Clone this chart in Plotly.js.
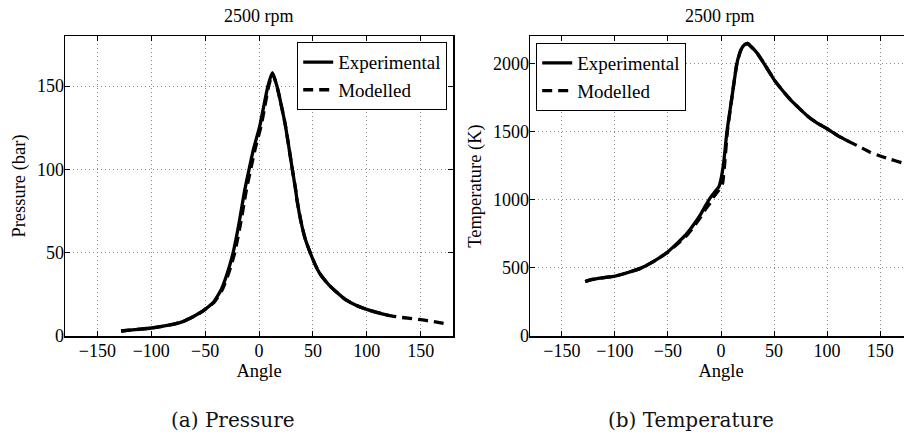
<!DOCTYPE html>
<html>
<head>
<meta charset="utf-8">
<script src="https://cdn.plot.ly/plotly-3.0.1.min.js"></script>
<style>
html,body{margin:0;padding:0;background:#fff;overflow:hidden;width:904px;height:435px;}
#chart{width:920px;height:435px;}
</style>
</head>
<body>
<div id="chart"></div>
<script>
// ---- Pressure data (bar) ----
const pExpAngle = [-128,-120,-110,-100,-90,-80,-70,-64,-60,-55,-50,-45,-42.5,-35,-29.3,-24,-18.5,-14.8,-13.2,-9.2,-4.9,0.6,3.7,8.3,12.4,16.6,21.6,24.7,30.9,34,35.2,39.2,43,47.5,52,56,60,65,70,80,90,100,110,120];
const pExpValue = [3,3.5,4.1,4.8,5.8,7,8.8,10.6,12,13.8,16,18.6,20,27.9,37.9,50,67.8,81.8,87.7,100,112.7,125.6,135.6,150,158,150,135.6,125.6,100,87.7,81.8,67.8,58,50,43,37.9,34.3,30.5,27.5,22,18.5,16,14,12.4];
const pModAngle = [-128,-120,-110,-100,-90,-80,-70,-64,-60,-55,-50,-45,-42,-34,-28,-22.5,-17,-13.3,-11.7,-7.7,-3.4,1.8,4.8,9,12.6,16.6,21.6,24.7,30.9,34,35.2,39.2,43,47.5,52,56,60,65,70,80,90,100,110,120,130,140,150,160,170,175];
const pModValue = [3,3.5,4.1,4.8,5.8,7,8.8,10.6,12,13.8,16,18.6,20,27.9,37.9,50,67.8,81.8,87.7,100,112.7,125.6,135.6,150,157.5,150,135.6,125.6,100,87.7,81.8,67.8,58,50,43,37.9,34.3,30.5,27.5,22,18.5,16,14,12.4,11.3,10.6,9.8,8.8,7.7,7.2];

// ---- Temperature data (K) ----
const tExpAngle = [-128,-123,-110,-100,-90,-76,-65,-50,-40,-32,-25,-19.5,-15,-10,-5,-2,0,2.5,5.6,10.4,15,18.9,22,25,28,34,42,50,58,65.4,75,82.6,90,100,110,120];
const tExpValue = [400,412,428,439,460,496,540,618,690,753,825,888,950,1015,1065,1095,1150,1268,1500,1757,2000,2100,2135,2145,2125,2076,1980,1880,1800,1733,1660,1606,1565,1520,1470,1428];
const tModAngle = [-128,-123,-110,-100,-90,-76,-65,-50,-40,-32,-25,-19.5,-15,-10,-7,-4,-1,1.5,3.5,6,10.4,15,18.9,22,25,28,34,42,50,58,65.4,75,82.6,90,100,110,120,130,140,150,160,170,175];
const tModValue = [400,412,428,439,460,496,540,615,682,740,808,868,925,978,1020,1050,1080,1120,1268,1500,1757,2000,2100,2135,2145,2125,2076,1980,1880,1800,1733,1660,1606,1565,1520,1470,1428,1390,1350,1320,1295,1272,1262];

const xTicks = [-150,-100,-50,0,50,100,150];
const pTicks = [0,50,100,150];
const tTicks = [0,500,1000,1500,2000];
const panelTitle = '2500 rpm';
const captions = ['(a) Pressure','(b) Temperature'];

const FONT = 'Liberation Serif';
const W = 912;
const dash = '10px,6px';

const traces = [
  {x:pExpAngle, y:pExpValue, xaxis:'x', yaxis:'y', mode:'lines', name:'Experimental', legend:'legend',
   line:{color:'#000', width:3.3, shape:'spline', smoothing:0.5}},
  {x:pModAngle, y:pModValue, xaxis:'x', yaxis:'y', mode:'lines', name:'Modelled', legend:'legend',
   line:{color:'#000', width:3.3, dash:dash, shape:'spline', smoothing:0.5}},
  {x:tExpAngle, y:tExpValue, xaxis:'x2', yaxis:'y2', mode:'lines', name:'Experimental', legend:'legend2',
   line:{color:'#000', width:3.3, shape:'spline', smoothing:0.4}},
  {x:tModAngle, y:tModValue, xaxis:'x2', yaxis:'y2', mode:'lines', name:'Modelled', legend:'legend2',
   line:{color:'#000', width:3.3, dash:dash, shape:'spline', smoothing:0.4}}
];

function xAxis(domain, anchor){
  return {domain:domain, anchor:anchor, range:[-180,180], tickvals:xTicks, ticks:'inside', ticklen:5,
    tickcolor:'#000', showline:true, linecolor:'#000', linewidth:1.5, mirror:'ticks',
    showgrid:true, gridcolor:'#8a8a8a', griddash:'1px,3px', gridwidth:1, zeroline:false,
    ticklabelstandoff:-2,
    tickfont:{family:FONT, size:18, color:'#000'},
    title:{text:'Angle', font:{family:FONT, size:18.5, color:'#000'}, standoff:0}};
}
function yAxis(range, ticks, title, anchor){
  return {domain:[0,1], anchor:anchor, range:range, tickvals:ticks, ticks:'inside', ticklen:5,
    tickcolor:'#000', showline:true, linecolor:'#000', linewidth:1.5, mirror:'ticks',
    showgrid:true, gridcolor:'#8a8a8a', griddash:'1px,3px', gridwidth:1, zeroline:false,
    ticklabelstandoff:-4,
    tickfont:{family:FONT, size:18, color:'#000'},
    title:{text:title, font:{family:FONT, size:18.5, color:'#000'}, standoff:6}};
}

const layout = {
  width:920, height:435,
  margin:{l:0, r:8, t:36, b:99},
  paper_bgcolor:'#fff', plot_bgcolor:'#fff',
  showlegend:true,
  xaxis: xAxis([65/W, 453/W], 'y'),
  yaxis: yAxis([0,180], pTicks, 'Pressure (bar)', 'x'),
  xaxis2: xAxis([530/W, 1], 'y2'),
  yaxis2: yAxis([0,2200], tTicks, 'Temperature (K)', 'x2'),
  legend:{x:447/W, xanchor:'right', y:0.98, yanchor:'top', bgcolor:'#fff', bordercolor:'#000', borderwidth:1.2,
    font:{family:FONT, size:19, color:'#000'}, tracegroupgap:0},
  legend2:{x:536/W, xanchor:'left', y:0.977, yanchor:'top', bgcolor:'#fff', bordercolor:'#000', borderwidth:1.2,
    font:{family:FONT, size:19, color:'#000'}, tracegroupgap:0},
  annotations:[
    {text:panelTitle, xref:'paper', yref:'paper', x:259/W, y:1+(36-16)/300, xanchor:'center', yanchor:'middle', showarrow:false,
     font:{family:FONT, size:18, color:'#000'}},
    {text:panelTitle, xref:'paper', yref:'paper', x:720/W, y:1+(36-16)/300, xanchor:'center', yanchor:'middle', showarrow:false,
     font:{family:FONT, size:18, color:'#000'}},
    {text:captions[0], xref:'paper', yref:'paper', x:233/W, y:-(420-336)/300, xanchor:'center', yanchor:'middle', showarrow:false,
     font:{family:'DejaVu Serif', size:20, color:'#111'}},
    {text:captions[1], xref:'paper', yref:'paper', x:691/W, y:-(420-336)/300, xanchor:'center', yanchor:'middle', showarrow:false,
     font:{family:'DejaVu Serif', size:20, color:'#111'}}
  ]
};

Plotly.newPlot('chart', traces, layout, {displayModeBar:false, staticPlot:true});
</script>
</body>
</html>
